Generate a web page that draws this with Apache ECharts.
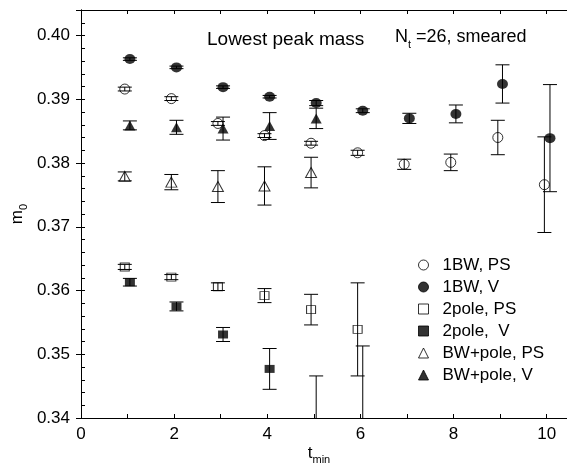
<!DOCTYPE html>
<html>
<head>
<meta charset="utf-8">
<script src="https://cdn.jsdelivr.net/npm/echarts@6/dist/echarts.min.js"></script>
<style>
  html, body { margin: 0; padding: 0; background: #fff; }
  #chart { width: 567px; height: 470px; }
</style>
</head>
<body>
<div id="chart"></div>
<script>
// t_min of each point (PS points drawn a bit left of the integer, V points a bit right)
const xPS = [0.94, 1.94, 2.94, 3.94, 4.94, 5.94, 6.94, 7.94, 8.95, 9.95]
const xV = [1.05, 2.05, 3.05, 4.05, 5.05, 6.05, 7.05, 8.05, 9.05, 10.07]

// m0 values and errors
const bw1PS = [0.3916, 0.3901, 0.3862, 0.3843, 0.3831, 0.3816, 0.3798, 0.3801, 0.3840, 0.3766]
const bw1PSErr = [0.0003, 0.0003, 0.0003, 0.0003, 0.0003, 0.0004, 0.0008, 0.0013, 0.0027, 0.0075]
const bw1V = [0.3963, 0.3950, 0.3919, 0.3904, 0.3894, 0.3882, 0.3870, 0.3877, 0.3924, 0.3839]
const bw1VErr = [0.0002, 0.0002, 0.0002, 0.0002, 0.0004, 0.0003, 0.0008, 0.0014, 0.0030, 0.0084]
const pole2PS = [0.3637, 0.3621, 0.3606, 0.3592, 0.3570, 0.3539]
const pole2PSErr = [0.0004, 0.0004, 0.0006, 0.0011, 0.0024, 0.0073]
const pole2V = [0.3613, 0.3575, 0.3531, 0.3477, 0.3385, 0.3385]
const pole2VErr = [0.0006, 0.0007, 0.0011, 0.0032, 0.0081, 0.0128]
const bwpPS = [0.3779, 0.3770, 0.3763, 0.3764, 0.3785]
const bwpPSErr = [0.0007, 0.0012, 0.0025, 0.0030, 0.0024]
const bwpV = [0.3859, 0.3856, 0.3854, 0.3858, 0.3870]
const bwpVErr = [0.0007, 0.0011, 0.0018, 0.0021, 0.0016]

const legendNames = ['1BW, PS', '1BW, V', '2pole, PS', '2pole,  V', 'BW+pole, PS', 'BW+pole, V']

const FONT = 'Liberation Sans, Arial, Helvetica, sans-serif'

const sets = [
  { name: legendNames[0], x: xPS, y: bw1PS, err: bw1PSErr, symbol: 'circle', size: [10, 10], open: true },
  { name: legendNames[1], x: xV, y: bw1V, err: bw1VErr, symbol: 'circle', size: [11, 10], open: false },
  { name: legendNames[2], x: xPS, y: pole2PS, err: pole2PSErr, symbol: 'rect', size: [9, 8], open: true },
  { name: legendNames[3], x: xV, y: pole2V, err: pole2VErr, symbol: 'rect', size: [10, 8], open: false },
  { name: legendNames[4], x: xPS, y: bwpPS, err: bwpPSErr, symbol: 'triangle', size: [11, 10], open: true },
  { name: legendNames[5], x: xV, y: bwpV, err: bwpVErr, symbol: 'triangle', size: [11, 10], open: false }
]

// vertical error bar with caps
function renderErr(params, api) {
  const x = api.value(0)
  const lo = api.coord([x, api.value(1)])
  const hi = api.coord([x, api.value(2)])
  const w = 7
  const st = { stroke: '#000', lineWidth: 1 }
  return {
    type: 'group',
    children: [
      { type: 'line', shape: { x1: lo[0], y1: lo[1], x2: hi[0], y2: hi[1] }, style: st },
      { type: 'line', shape: { x1: hi[0] - w, y1: hi[1], x2: hi[0] + w, y2: hi[1] }, style: st },
      { type: 'line', shape: { x1: lo[0] - w, y1: lo[1], x2: lo[0] + w, y2: lo[1] }, style: st }
    ]
  }
}

const series = []
sets.forEach(s => {
  series.push({
    name: s.name + ' err',
    type: 'custom',
    clip: true,
    silent: true,
    renderItem: renderErr,
    data: s.y.map((v, i) => [s.x[i], v - s.err[i], v + s.err[i]]),
    z: 2
  })
  series.push({
    name: s.name,
    type: 'scatter',
    clip: true,
    symbol: s.symbol,
    symbolSize: s.size,
    itemStyle: s.open
      ? { color: 'rgba(255,255,255,0)', borderColor: '#000', borderWidth: 1 }
      : { color: '#000', borderColor: '#000', borderWidth: 0 },
    data: s.y.map((v, i) => [s.x[i], v]),
    z: 3
  })
})

const chart = echarts.init(document.getElementById('chart'))

const axLine = { show: true, lineStyle: { color: '#000', width: 1 } }

const option = {
  animation: false,
  backgroundColor: '#fff',
  textStyle: { fontFamily: FONT, color: '#000' },
  title: [
    {
      text: 'Lowest peak mass',
      left: 207,
      top: 30,
      padding: 0,
      textStyle: { fontFamily: FONT, fontSize: 19, fontWeight: 'normal', color: '#000', lineHeight: 20 }
    },
    {
      text: '{n|N}{s|t}{n| =26, smeared}',
      left: 395,
      top: 27,
      padding: 0,
      textStyle: {
        fontFamily: FONT, fontSize: 18, fontWeight: 'normal', color: '#000',
        rich: {
          n: { fontFamily: FONT, fontSize: 18, color: '#000', lineHeight: 20 },
          s: { fontFamily: FONT, fontSize: 11, color: '#000', lineHeight: 11, padding: [16, 0, 0, 0] }
        }
      }
    }
  ],
  legend: {
    data: legendNames,
    orient: 'vertical',
    left: 418,
    top: 255,
    padding: 0,
    itemGap: 2,
    itemWidth: 10,
    itemHeight: 10,
    selectedMode: false,
    itemStyle: { borderWidth: 1 },
    textStyle: { fontFamily: FONT, fontSize: 17, color: '#000', lineHeight: 20, padding: [0, 0, 0, 9] }
  },
  grid: {
    left: 81,
    right: -3,
    top: 10,
    bottom: 52,
    containLabel: false,
    outerBoundsMode: 'none'
  },
  xAxis: [
    {
      type: 'value',
      position: 'bottom',
      min: 0,
      max: 10.5,
      interval: 1,
      axisLine: axLine,
      axisTick: { inside: true, length: 4, lineStyle: { color: '#000' } },
      axisLabel: {
        margin: 8,
        fontFamily: FONT,
        fontSize: 17,
        color: '#000',
        showMaxLabel: false,
        formatter: v => (Math.abs(v % 2) < 1e-9 ? String(v) : '')
      },
      splitLine: { show: false },
      name: '{t|t}{s|min}',
      nameLocation: 'middle',
      nameGap: 25,
      nameMoveOverlap: false,
      nameTextStyle: {
        padding: [0, 13, 0, 0],
        rich: {
          t: { fontFamily: FONT, fontSize: 17, color: '#000', lineHeight: 20 },
          s: { fontFamily: FONT, fontSize: 11, color: '#000', lineHeight: 11, padding: [14, 0, 0, 0] }
        }
      }
    },
    {
      type: 'value',
      position: 'top',
      min: 0,
      max: 10.5,
      interval: 1,
      axisLine: axLine,
      axisTick: { inside: true, length: 4, lineStyle: { color: '#000' } },
      axisLabel: { show: false },
      splitLine: { show: false }
    }
  ],
  yAxis: [
    {
      type: 'value',
      position: 'left',
      min: 0.34,
      max: 0.404,
      interval: 0.002,
      axisLine: axLine,
      axisTick: { inside: true, length: 4, lineStyle: { color: '#000' } },
      axisLabel: {
        margin: 11,
        fontFamily: FONT,
        fontSize: 17,
        color: '#000',
        formatter: v => {
          const k = v * 100
          return Math.abs(k - Math.round(k)) < 1e-6 ? v.toFixed(2) : ''
        }
      },
      splitLine: { show: false },
      name: '{m|m}{s|0}',
      nameLocation: 'middle',
      nameGap: 54,
      nameMoveOverlap: false,
      nameTextStyle: {
        rich: {
          m: { fontFamily: FONT, fontSize: 17, color: '#000', lineHeight: 20 },
          s: { fontFamily: FONT, fontSize: 11, color: '#000', lineHeight: 11, padding: [14, 0, 0, 0] }
        }
      }
    },
    {
      type: 'value',
      position: 'right',
      min: 0.34,
      max: 0.404,
      interval: 0.01,
      axisLine: axLine,
      axisTick: { inside: true, length: 5, lineStyle: { color: '#000' } },
      axisLabel: { show: false },
      splitLine: { show: false }
    }
  ],
  series: series
}

chart.setOption(option)
</script>
</body>
</html>
